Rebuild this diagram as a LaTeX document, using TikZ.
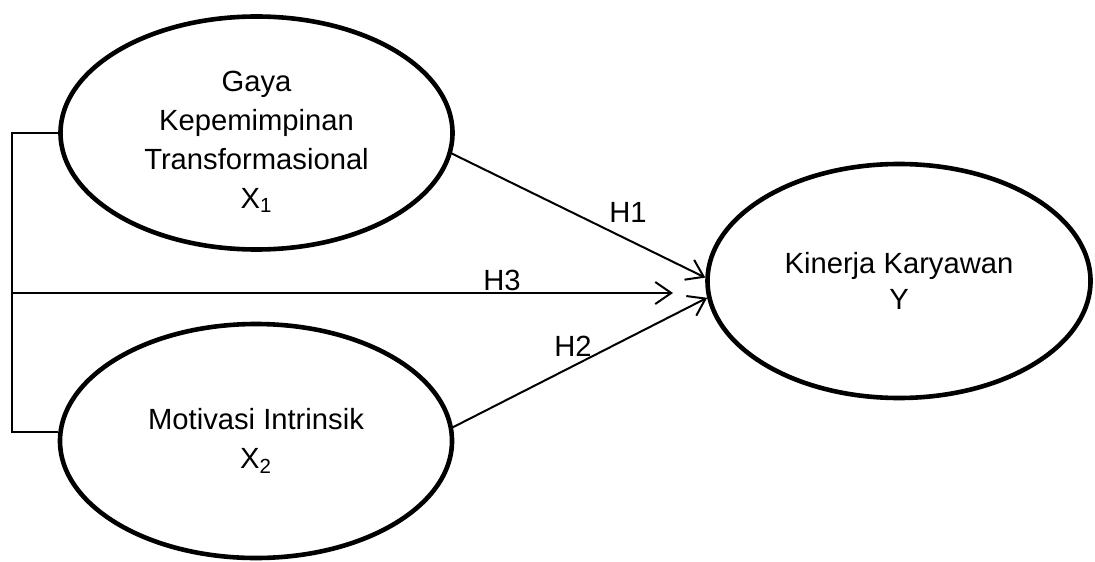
\documentclass[tikz,border=0pt]{standalone}
\usepackage{fontspec}
\setmainfont{Liberation Sans}
\usetikzlibrary{arrows.meta,shapes.geometric}
\tikzset{
  var/.style={draw, ellipse, line width=2.3pt, inner sep=0pt, align=center,
              font=\fontsize{14.6}{19.5}\selectfont},
  hyp/.style={line width=1pt, -{Straight Barb[length=8pt, width=11pt, line width=1pt]}},
  lbl/.style={font=\fontsize{14.6}{16}\selectfont, inner sep=0pt}
}
\newcommand{\sub}[1]{\textsubscript{#1}}

\begin{document}
\begin{tikzpicture}[x=0.5pt, y=-0.5pt]
  \useasboundingbox (0,0) rectangle (1095,561);
  \node[var, minimum width=196pt, minimum height=116.5pt] (x1) at (256.5,133)
    {\rule{0pt}{19pt}Gaya\\Kepemimpinan\\Transformasional\\X\sub{1}};
  \node[var, minimum width=196pt, minimum height=117pt] (x2) at (256,441)
    {Motivasi Intrinsik\\X\sub{2}};
  \node[var, minimum width=191.5pt, minimum height=117pt,
        font=\fontsize{14.6}{18}\selectfont] (y) at (899,281)
    {Kinerja Karyawan\\Y};

  \coordinate (bb) at (12,432);
  \coordinate (h3start) at (12,293);
  \coordinate (h3end) at (673,293);
  \draw[line width=0.8pt] (x1.west) -| (bb) -- (x2.west |- bb);

  \draw[hyp] (x1.-6.4) -- (y.179);
  \draw[hyp] (h3start) -- (h3end);
  \draw[hyp] (x2.4.6) -- (y.185);

  \node[lbl] (h1) at (628,212) {H1};
  \node[lbl] (h3) at (502,280) {H3};
  \node[lbl] (h2) at (573,346) {H2};
\end{tikzpicture}
\end{document}
